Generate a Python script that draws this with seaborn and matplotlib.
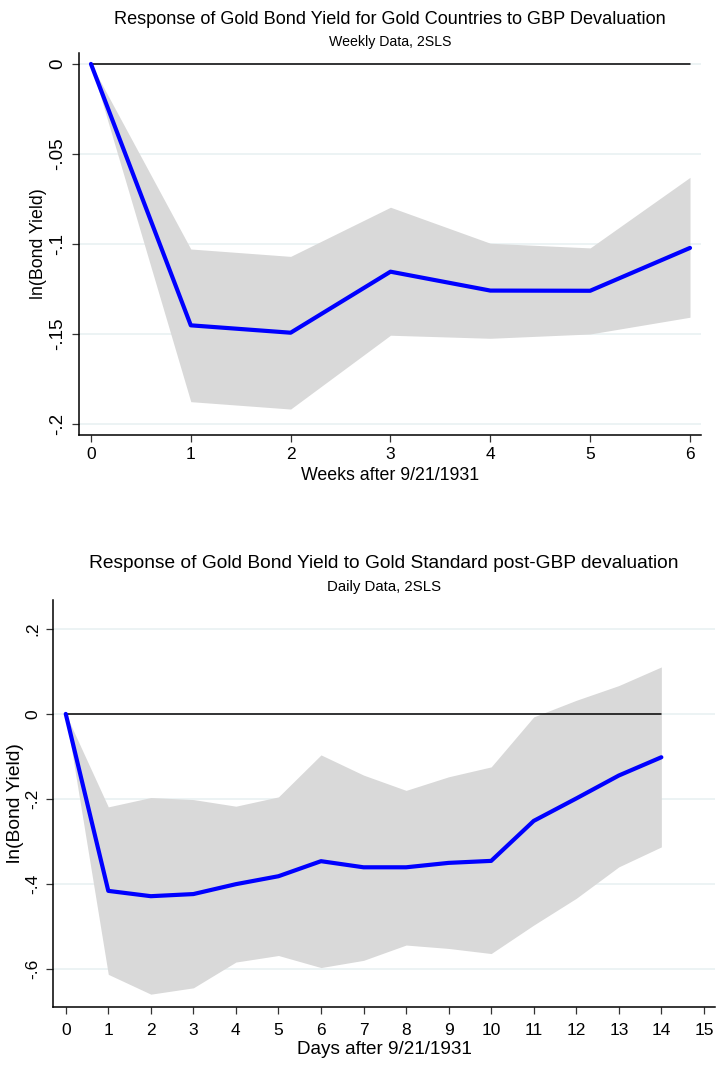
import numpy as np
import pandas as pd
import matplotlib
matplotlib.use("Agg")
import matplotlib.pyplot as plt
import seaborn as sns

sns.set_theme(style="white")
plt.rcParams["font.family"] = ["Liberation Sans", "DejaVu Sans"]
plt.rcParams["text.color"] = "black"
plt.rcParams["axes.labelcolor"] = "black"
plt.rcParams["xtick.color"] = "black"
plt.rcParams["ytick.color"] = "black"

# Weekly impulse response (2SLS)
weeks = [0, 1, 2, 3, 4, 5, 6]
weekly_irf = [0.0, -0.1452, -0.1493, -0.1154, -0.1259, -0.1260, -0.1022]
weekly_upper = [0.0, -0.1028, -0.1069, -0.0796, -0.0996, -0.1022, -0.0630]
weekly_lower = [0.0, -0.1876, -0.1917, -0.1507, -0.1524, -0.1500, -0.1407]
weekly_yticks = [0, -0.05, -0.1, -0.15, -0.2]
weekly_yticklabels = ["0", "-.05", "-.1", "-.15", "-.2"]

# Daily impulse response (2SLS)
days = list(range(15))
daily_irf = [0.0, -0.4165, -0.4290, -0.4240, -0.4007, -0.3820, -0.3466,
             -0.3610, -0.3610, -0.3506, -0.3459, -0.2518, -0.1990, -0.1450, -0.1020]
daily_upper = [0.0, -0.2188, -0.1968, -0.2016, -0.2172, -0.1953, -0.0965,
               -0.1440, -0.1800, -0.1480, -0.1247, -0.0070, 0.0320, 0.0667, 0.1106]
daily_lower = [0.0, -0.6130, -0.6596, -0.6447, -0.5840, -0.5686, -0.5970,
               -0.5800, -0.5440, -0.5520, -0.5640, -0.4970, -0.4340, -0.3600, -0.3130]
daily_yticks = [0.2, 0, -0.2, -0.4, -0.6]
daily_yticklabels = [".2", "0", "-.2", "-.4", "-.6"]
daily_xticks = list(range(16))

BLUE = "#0000FF"
BAND = "#D9D9D9"
GRID = "#EAF2F3"


def draw_irf(ax, x, irf, lo, hi, fs, xpad):
    df = pd.DataFrame({"h": x, "irf": irf, "zero": np.zeros(len(x))})
    ax.fill_between(df["h"], lo, hi, color=BAND, linewidth=0, zorder=1)
    sns.lineplot(data=df, x="h", y="zero", ax=ax, color="black", linewidth=1.1, zorder=2)
    sns.lineplot(data=df, x="h", y="irf", ax=ax, color=BLUE, linewidth=3.0, zorder=3)
    ax.yaxis.grid(True, color=GRID, linewidth=1.3, zorder=0)
    ax.xaxis.grid(False)
    ax.set_axisbelow(True)
    for side in ("top", "right"):
        ax.spines[side].set_visible(False)
    for side in ("left", "bottom"):
        ax.spines[side].set_color("black")
        ax.spines[side].set_linewidth(1.1)
    ax.tick_params(axis="both", direction="out", length=5, width=0.9,
                   color="#333333", labelsize=fs, bottom=True, left=True,
                   labelcolor="black")
    ax.tick_params(axis="x", pad=xpad)
    ax.tick_params(axis="y", pad=4)


fig = plt.figure(figsize=(7.2, 10.74), dpi=100)

# Weekly panel
ax1 = fig.add_axes([0.1097, 0.5950, 0.8639, 0.3557])
draw_irf(ax1, weeks, weekly_irf, weekly_lower, weekly_upper, 12.5, 4)
ax1.set_xlim(-0.12, 6.11)
ax1.set_ylim(-0.2061, 0.0061)
ax1.set_xticks(weeks)
ax1.set_yticks(weekly_yticks)
ax1.set_yticklabels(weekly_yticklabels, rotation=90, va="center", fontsize=13.5)
ax1.set_xlabel("Weeks after 9/21/1931", fontsize=12.8, labelpad=3)
ax1.set_ylabel("ln(Bond Yield)", fontsize=12.8, labelpad=2)
fig.text(0.5 * (0.1097 + 0.9736), 1 - 19 / 1074,
         "Response of Gold Bond Yield for Gold Countries to GBP Devaluation",
         ha="center", va="center", fontsize=13.1)
fig.text(0.5 * (0.1097 + 0.9736), 1 - 42 / 1074, "Weekly Data, 2SLS",
         ha="center", va="center", fontsize=10.2)

# Daily panel
ax2 = fig.add_axes([0.0736, 0.0627, 0.9194, 0.3786])
draw_irf(ax2, days, daily_irf, daily_lower, daily_upper, 12.5, 7)
ax2.set_xlim(-0.3, 15.26)
ax2.set_ylim(-0.689, 0.268)
ax2.set_xticks(daily_xticks)
ax2.set_yticks(daily_yticks)
ax2.set_yticklabels(daily_yticklabels, rotation=90, va="center")
ax2.set_xlabel("Days after 9/21/1931", fontsize=13.6, labelpad=2)
ax2.set_ylabel("ln(Bond Yield)", fontsize=13.9, labelpad=1)
fig.text(0.5 * (0.0736 + 0.993), 1 - 563 / 1074,
         "Response of Gold Bond Yield to Gold Standard post-GBP devaluation",
         ha="center", va="center", fontsize=13.8)
fig.text(0.5 * (0.0736 + 0.993), 1 - 587 / 1074, "Daily Data, 2SLS",
         ha="center", va="center", fontsize=10.8)

fig.savefig("out.png", dpi=100, facecolor="white")
